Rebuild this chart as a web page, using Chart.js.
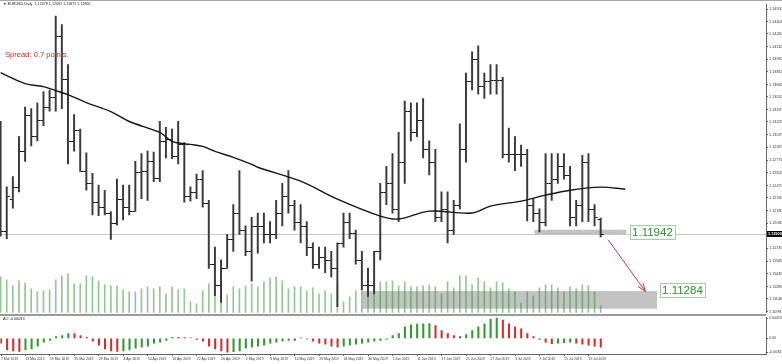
<!DOCTYPE html>
<html>
<head>
<meta charset="utf-8">
<script src="https://cdn.jsdelivr.net/npm/chart.js@4.4.1/dist/chart.umd.min.js"></script>
<style>
  html, body { margin: 0; padding: 0; background: #fff; }
  #wrap { position: relative; width: 782px; height: 364px; overflow: hidden; font-family: "Liberation Sans", Arial, sans-serif; }
  canvas { position: absolute; left: 0; }
  #main { top: 0; }
  #ao { top: 314px; }
  .t { position: absolute; white-space: nowrap; line-height: 1; }
  #frame { position: absolute; left: 0; top: 0; width: 782px; height: 1px; background: #a8a8a8; }
</style>
</head>
<body>
<div id="wrap">
  <canvas id="main" width="782" height="316"></canvas>
  <canvas id="ao" width="782" height="50"></canvas>
  <div id="frame"></div>
  <div class="t" style="left:3px;top:3px;font-size:3.7px;color:#222;">&#9660; EURUSD,Daily&nbsp; 1.12079 1.12092 1.11871 1.11900</div>
  <div class="t" style="left:5px;top:51px;font-size:7.6px;color:#d02525;">Spread: 0.7 points.</div>
  <div class="t" style="left:3px;top:318px;font-size:3.8px;color:#222;">AO -0.00033</div>
</div>
<script>
// daily bars, 7 Mar 2019 .. 23 Jul 2019
var opens = [1.1307,1.1194,1.1232,1.1246,1.1288,1.1330,1.1306,1.1325,1.1340,1.1352,
  1.1424,1.1373,1.1300,1.1313,1.1265,1.1250,1.1228,1.1222,1.1215,1.1203,
  1.1232,1.1222,1.1217,1.1264,1.1265,1.1276,1.1256,1.1300,1.1302,1.1282,
  1.1296,1.1235,1.1240,1.1255,1.1227,1.1155,1.1130,1.1150,1.1185,1.1215,
  1.1195,1.1170,1.1200,1.1200,1.1190,1.1190,1.1215,1.1235,1.1225,1.1205,
  1.1200,1.1175,1.1155,1.1163,1.1160,1.1150,1.1180,1.1205,1.1192,1.1160,
  1.1130,1.1130,1.1170,1.1240,1.1250,1.1220,1.1275,1.1335,1.1310,1.1325,
  1.1290,1.1275,1.1210,1.1220,1.1195,1.1225,1.1290,1.1370,1.1397,1.1365,
  1.1370,1.1372,1.1372,1.1285,1.1285,1.1285,1.1285,1.1225,1.1215,1.1205,
  1.1250,1.1255,1.1270,1.1260,1.1210,1.1225,1.1275,1.1220,1.12079];
var highs = [1.1323,1.1246,1.1258,1.1305,1.1340,1.1338,1.1345,1.1358,1.1360,1.1447,
  1.1437,1.1390,1.1331,1.1314,1.1286,1.1262,1.1248,1.1242,1.1217,1.1255,
  1.1248,1.1248,1.1276,1.1285,1.1288,1.1287,1.1323,1.1316,1.1314,1.1323,
  1.1298,1.1246,1.1261,1.1265,1.1230,1.1175,1.1160,1.1190,1.1225,1.1265,
  1.1200,1.1210,1.1215,1.1215,1.1205,1.1230,1.1250,1.1265,1.1230,1.1225,
  1.1205,1.1180,1.1175,1.1175,1.1170,1.1180,1.1215,1.1215,1.1195,1.1170,
  1.1150,1.1170,1.1250,1.1270,1.1285,1.1310,1.1347,1.1345,1.1345,1.1350,
  1.1300,1.1290,1.1240,1.1240,1.1230,1.1320,1.1380,1.1405,1.1412,1.1380,
  1.1390,1.1390,1.1375,1.1315,1.1305,1.1295,1.1290,1.1232,1.1220,1.1285,
  1.1285,1.1285,1.1285,1.1270,1.1230,1.1283,1.1285,1.1225,1.12092];
var lows = [1.1188,1.1185,1.1221,1.1240,1.1276,1.1294,1.1300,1.1318,1.1335,1.1335,
  1.1338,1.1273,1.1288,1.1264,1.1242,1.1213,1.1212,1.1213,1.1184,1.1201,
  1.1207,1.1213,1.1217,1.1232,1.1230,1.1252,1.1252,1.1280,1.1279,1.1273,
  1.1228,1.1229,1.1232,1.1222,1.1150,1.1118,1.1110,1.1150,1.1170,1.1190,
  1.1165,1.1135,1.1168,1.1180,1.1180,1.1185,1.1200,1.1215,1.1195,1.1180,
  1.1165,1.1150,1.1150,1.1145,1.1140,1.1105,1.1175,1.1185,1.1155,1.1125,
  1.1117,1.1120,1.1160,1.1225,1.1215,1.1205,1.1250,1.1300,1.1305,1.1280,
  1.1260,1.1205,1.1205,1.1180,1.1190,1.1220,1.1275,1.1360,1.1355,1.1350,
  1.1355,1.1355,1.1280,1.1275,1.1265,1.1270,1.1206,1.1205,1.1193,1.1200,
  1.1230,1.1250,1.1255,1.1200,1.1200,1.1205,1.1205,1.1200,1.11871];
var closes = [1.1194,1.1235,1.1246,1.1288,1.1330,1.1306,1.1325,1.1340,1.1352,1.1424,
  1.1373,1.1300,1.1313,1.1265,1.1250,1.1228,1.1222,1.1215,1.1203,1.1232,
  1.1222,1.1217,1.1264,1.1265,1.1276,1.1256,1.1300,1.1302,1.1282,1.1296,
  1.1235,1.1240,1.1255,1.1227,1.1155,1.1130,1.1150,1.1185,1.1215,1.1195,
  1.1170,1.1200,1.1200,1.1190,1.1190,1.1215,1.1235,1.1225,1.1205,1.1200,
  1.1175,1.1155,1.1163,1.1160,1.1150,1.1180,1.1205,1.1192,1.1160,1.1130,
  1.1130,1.1170,1.1240,1.1250,1.1220,1.1275,1.1335,1.1310,1.1325,1.1290,
  1.1275,1.1210,1.1220,1.1195,1.1225,1.1290,1.1370,1.1397,1.1365,1.1370,
  1.1372,1.1372,1.1285,1.1285,1.1285,1.1285,1.1225,1.1215,1.1205,1.1250,
  1.1255,1.1270,1.1260,1.1210,1.1225,1.1275,1.1220,1.1210,1.11900];
var volumes = [72,66,54,64,60,48,42,44,46,66,74,78,58,58,74,72,64,56,54,54,
  46,42,42,48,52,48,52,38,52,46,48,22,18,44,58,66,62,36,52,48,
  54,58,52,62,70,72,64,48,52,52,44,50,38,44,38,54,22,32,44,48,
  64,62,62,62,64,54,62,52,52,54,56,52,38,62,50,74,74,56,70,62,
  50,62,60,48,42,20,42,34,50,56,56,50,42,52,48,56,54,42,14];
var aoValues = [-0.00109,-0.00260,-0.00282,-0.00290,-0.00260,-0.00239,-0.00174,-0.00087,-0.00043,0.00043,
  0.00065,0.00109,0.00109,0.00065,0.00022,-0.00065,-0.00152,-0.00239,-0.00282,-0.00290,
  -0.00283,-0.00260,-0.00217,-0.00195,-0.00174,-0.00109,-0.00087,-0.00043,0.00022,0.00022,
  0.00021,0.00011,-0.00022,-0.00065,-0.00174,-0.00239,-0.00282,-0.00307,-0.00300,-0.00282,
  -0.00217,-0.00195,-0.00174,-0.00152,-0.00109,-0.00087,-0.00065,-0.00043,-0.00044,0.00011,
  -0.00011,-0.00065,-0.00109,-0.00130,-0.00174,-0.00195,-0.00174,-0.00152,-0.00130,-0.00109,
  -0.00087,-0.00065,-0.00043,-0.00022,0.00065,0.00109,0.00260,0.00304,0.00320,0.00328,
  0.00332,0.00290,0.00174,0.00109,0.00065,0.00043,0.00087,0.00174,0.00260,0.00326,
  0.00434,0.00456,0.00412,0.00326,0.00260,0.00217,0.00109,0.00043,-0.00022,-0.00087,
  -0.00119,-0.00109,-0.00098,-0.00087,-0.00109,-0.00130,-0.00152,-0.00174,-0.00195];
// moving average line, read at a few bar positions
var maIdx = [0,4,7,9,11,14,18,21,26,28,31,33,35,38,41,42,49,55,62,65,70,77,80,85,89,93,98,102];
var maValues = [1.13803,1.13674,1.13639,1.13592,1.13545,1.13452,1.13346,1.13229,1.13100,1.12995,
  1.12959,1.12936,1.12877,1.12807,1.12725,1.12690,1.12526,1.12315,1.12116,1.12081,
  1.12174,1.12151,1.12233,1.12292,1.12362,1.12420,1.12456,1.12432];
var dateLabels = ['7 Mar 2019','13 Mar 2019','19 Mar 2019','25 Mar 2019','29 Mar 2019','4 Apr 2019',
  '10 Apr 2019','16 Apr 2019','22 Apr 2019','26 Apr 2019','2 May 2019','8 May 2019','14 May 2019',
  '20 May 2019','24 May 2019','30 May 2019','5 Jun 2019','11 Jun 2019','17 Jun 2019','21 Jun 2019',
  '27 Jun 2019','3 Jul 2019','9 Jul 2019','15 Jul 2019','19 Jul 2019'];
var priceTicks = [1.14550,1.14405,1.14260,1.14110,1.13960,1.13815,1.13665,1.13520,1.13370,1.13225,
  1.13075,1.12925,1.12775,1.12625,1.12475,1.12330,1.12180,1.12030,1.11735,1.11585,1.11435,1.11285,1.11140,1.10990];
var aoTicks = [0.004556, 0, -0.003071];
var aoTickLabels = ['0.004556', '0.00', '-0.003071'];

// drawn marks (in data units)
var zones = [
  { from: 87.2, to: 102.2, top: 1.11955, bottom: 1.11896, text: '1.11942', tx: 102.8, ty: 1.11924 },
  { from: 59.1, to: 107.2, top: 1.11233, bottom: 1.11025, text: '1.11284', tx: 107.7, ty: 1.11240 }
];
var arrow = { x0: 99.2, y0: 1.11838, x1: 105.3, y1: 1.11228 };

var barIdx = opens.map(function (o, i) { return i; });
var dateIdx = dateLabels.map(function (d, k) { return k * 4; });
var FONT = '"Liberation Sans", Arial, sans-serif';

var ohlcTicks = {
  id: 'ohlcTicks',
  beforeDatasetsDraw: function (chart) {
    var ctx = chart.ctx, x = chart.scales.x, y = chart.scales.y, a = chart.chartArea;
    // bid line
    var yb = Math.round(y.getPixelForValue(closes[closes.length - 1])) + 0.5;
    ctx.save();
    ctx.strokeStyle = '#c8c8c8';
    ctx.lineWidth = 1;
    ctx.beginPath(); ctx.moveTo(a.left, yb); ctx.lineTo(a.right, yb); ctx.stroke();
    // grey zones
    ctx.fillStyle = '#c2c2c2';
    zones.forEach(function (z) {
      var l = x.getPixelForValue(z.from), r = x.getPixelForValue(z.to);
      var t = y.getPixelForValue(z.top), b = y.getPixelForValue(z.bottom);
      ctx.fillRect(l, t, r - l, b - t);
    });
    ctx.restore();
  },
  afterDatasetsDraw: function (chart) {
    var ctx = chart.ctx, x = chart.scales.x, y = chart.scales.y;
    ctx.save();
    ctx.strokeStyle = '#111';
    ctx.lineWidth = 1;
    ctx.beginPath();
    barIdx.forEach(function (i) {
      var px = x.getPixelForValue(i);
      var yo = Math.round(y.getPixelForValue(opens[i])) + 0.5;
      var yc = Math.round(y.getPixelForValue(closes[i])) + 0.5;
      ctx.moveTo(px - 3, yo); ctx.lineTo(px - 0.7, yo);
      ctx.moveTo(px + 0.7, yc); ctx.lineTo(px + 3, yc);
    });
    ctx.stroke();

    // zone labels
    ctx.font = '11.5px ' + FONT;
    ctx.textBaseline = 'middle';
    zones.forEach(function (z) {
      var lx = x.getPixelForValue(z.tx), ly = y.getPixelForValue(z.ty);
      var w = ctx.measureText(z.text).width;
      ctx.fillStyle = '#fff';
      ctx.fillRect(lx, ly - 7, w + 4, 14);
      ctx.strokeStyle = '#9fd09f';
      ctx.strokeRect(Math.round(lx) + 0.5, Math.round(ly - 7) + 0.5, Math.round(w + 4), 14);
      ctx.fillStyle = '#2f8f2f';
      ctx.fillText(z.text, lx + 2, ly + 0.5);
    });

    // arrow
    var ax0 = x.getPixelForValue(arrow.x0), ay0 = y.getPixelForValue(arrow.y0);
    var ax1 = x.getPixelForValue(arrow.x1), ay1 = y.getPixelForValue(arrow.y1);
    var ang = Math.atan2(ay1 - ay0, ax1 - ax0);
    ctx.strokeStyle = '#d03a3a';
    ctx.lineWidth = 1;
    ctx.beginPath();
    ctx.moveTo(ax0, ay0); ctx.lineTo(ax1, ay1);
    ctx.moveTo(ax1, ay1); ctx.lineTo(ax1 - 9 * Math.cos(ang - 0.35), ay1 - 9 * Math.sin(ang - 0.35));
    ctx.moveTo(ax1, ay1); ctx.lineTo(ax1 - 9 * Math.cos(ang + 0.35), ay1 - 9 * Math.sin(ang + 0.35));
    ctx.stroke();
    ctx.restore();
  },
  afterDraw: function (chart) {
    // current price box on the axis
    var ctx = chart.ctx, y = chart.scales.y, a = chart.chartArea;
    var last = closes[closes.length - 1];
    var py = Math.round(y.getPixelForValue(last));
    ctx.save();
    ctx.fillStyle = '#000';
    ctx.fillRect(a.right + 1, py - 3, 15, 6);
    ctx.fillStyle = '#fff';
    ctx.font = 'bold 3.9px ' + FONT;
    ctx.textBaseline = 'middle';
    ctx.fillText(last.toFixed(5), a.right + 2, py + 0.3);
    ctx.restore();
  }
};

new Chart(document.getElementById('main'), {
  type: 'bar',
  data: {
    datasets: [
      {
        type: 'line',
        data: maIdx.map(function (v, k) { return { x: v, y: maValues[k] }; }),
        yAxisID: 'y',
        borderColor: '#151515',
        borderWidth: 1.4,
        pointRadius: 0,
        tension: 0.35,
        order: 1
      },
      {
        type: 'bar',
        data: barIdx.map(function (i) { return { x: i, y: [lows[i], highs[i]] }; }),
        yAxisID: 'y',
        backgroundColor: '#3a3a3a',
        barThickness: 1.3,
        grouped: false,
        order: 2
      },
      {
        type: 'bar',
        data: barIdx.map(function (i) { return { x: i, y: volumes[i] }; }),
        yAxisID: 'yVol',
        backgroundColor: 'rgba(60,150,60,0.55)',
        barThickness: 1,
        grouped: false,
        order: 3
      }
    ]
  },
  options: {
    responsive: false,
    animation: false,
    layout: { padding: { top: 4, bottom: 2, left: 0, right: 0 } },
    plugins: { legend: { display: false }, tooltip: { enabled: false } },
    scales: {
      x: { type: 'linear', min: -0.1, max: 125, display: false, offset: false, grid: { offset: false } },
      y: {
        position: 'right',
        min: 1.10978,
        max: 1.14612,
        afterFit: function (s) { s.width = 16; },
        afterBuildTicks: function (s) { s.ticks = priceTicks.map(function (v) { return { value: v }; }); },
        ticks: {
          autoSkip: false,
          padding: 1,
          color: '#333',
          font: { size: 3.8, family: FONT },
          callback: function (v) { return Number(v).toFixed(5); }
        },
        grid: { drawOnChartArea: false, tickLength: 2, color: '#666' },
        border: { color: '#666' }
      },
      yVol: { display: false, min: 0, max: 620 }
    }
  },
  plugins: [ohlcTicks]
});

var aoFrame = {
  id: 'aoFrame',
  afterDraw: function (chart) {
    var ctx = chart.ctx, a = chart.chartArea;
    ctx.save();
    ctx.fillStyle = '#9a9a9a';
    ctx.fillRect(0, 0, a.right, 2);
    ctx.restore();
  }
};

new Chart(document.getElementById('ao'), {
  type: 'bar',
  data: {
    datasets: [{
      data: barIdx.map(function (i) { return { x: i, y: aoValues[i] }; }),
      backgroundColor: aoValues.map(function (v, i) { return i > 0 && v > aoValues[i - 1] ? '#2f9a2f' : '#d42c2c'; }),
      barThickness: 1.4
    }]
  },
  options: {
    responsive: false,
    animation: false,
    layout: { padding: { top: 2, bottom: 0, left: 0, right: 0 } },
    plugins: { legend: { display: false }, tooltip: { enabled: false } },
    scales: {
      x: {
        type: 'linear', min: -0.1, max: 125, offset: false,
        afterFit: function (s) { s.height = 10; },
        afterBuildTicks: function (s) { s.ticks = dateIdx.map(function (v) { return { value: v }; }); },
        ticks: {
          autoSkip: false, maxRotation: 0, align: 'start', padding: 1,
          color: '#333',
          font: { size: 3.4, family: FONT },
          callback: function (v, k) { return dateLabels[k]; }
        },
        grid: { drawOnChartArea: false, offset: false, tickLength: 2, color: '#666' },
        border: { color: '#666' }
      },
      y: {
        position: 'right',
        min: -0.003507,
        max: 0.004774,
        afterFit: function (s) { s.width = 16; },
        afterBuildTicks: function (s) { s.ticks = aoTicks.map(function (v) { return { value: v }; }); },
        ticks: {
          autoSkip: false, padding: 1, color: '#333',
          font: { size: 3.6, family: FONT },
          callback: function (v, k) { return aoTickLabels[k]; }
        },
        grid: { drawOnChartArea: false, tickLength: 2, color: '#666' },
        border: { color: '#666' }
      }
    }
  },
  plugins: [aoFrame]
});
</script>
</body>
</html>
